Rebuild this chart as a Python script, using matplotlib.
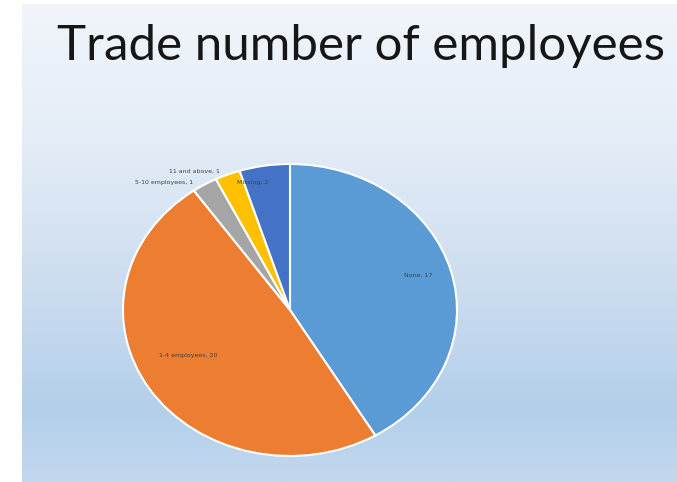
import numpy as np
import matplotlib
matplotlib.use("Agg")
import matplotlib.pyplot as plt
from matplotlib.colors import LinearSegmentedColormap

# employee counts per trade
categories = ["None", "1-4 employees", "5-10 employees", "11 and above", "Missing"]
counts = [17, 20, 1, 1, 2]
colors = ["#5B9BD5", "#ED7D31", "#A5A5A5", "#FFC000", "#4472C4"]

W, H = 677, 482
fig = plt.figure(figsize=(W / 100, H / 100), dpi=100)
fig.patch.set_facecolor("white")

# slide background: pale at the top fading into light blue
bg = fig.add_axes([22 / W, 0, 1 - 22 / W, (H - 4) / H])
bg.axis("off")
grad_cmap = LinearSegmentedColormap.from_list(
    "slide", [(0.0, "#f1f5fb"), (0.3, "#e3ecf7"), (0.6, "#cbdcef"),
              (0.85, "#b3cfea"), (1.0, "#c2d8ef")])
grad = np.linspace(0, 1, 256).reshape(-1, 1)
bg.imshow(grad, aspect="auto", cmap=grad_cmap, extent=[0, 1, 0, 1], origin="upper")
bg.set_xlim(0, 1)
bg.set_ylim(0, 1)

fig.text(361 / W, 1 - 46 / H, "Trade number of employees", ha="center", va="center",
         fontsize=35.5, family="Lato", color="#161616")

# pie is stretched into an ellipse by the axes box
cx, cy, rx, ry = 290, 310, 167, 146
ax = fig.add_axes([(cx - rx) / W, (H - cy - ry) / H, 2 * rx / W, 2 * ry / H])
ax.pie(counts, colors=colors, startangle=90, counterclock=False,
       wedgeprops=dict(edgecolor="white", linewidth=1.5))
ax.set_aspect("auto")
ax.set_xlim(-1, 1)
ax.set_ylim(-1, 1)
ax.axis("off")

lbl = dict(fontsize=4.5, color="#404040", family="DejaVu Sans")
texts = [f"{c}, {v}" for c, v in zip(categories, counts)]
ax.text(0.77, 0.24, texts[0], ha="center", va="center", **lbl)
ax.text(-0.61, -0.31, texts[1], ha="center", va="center", **lbl)
ax.text(-0.58, 0.87, texts[2], ha="right", va="center", **lbl)
ax.text(-0.42, 0.95, texts[3], ha="right", va="center", **lbl)
ax.text(-0.32, 0.87, texts[4], ha="left", va="center", **lbl)

fig.savefig("out.png", dpi=100, facecolor="white")
